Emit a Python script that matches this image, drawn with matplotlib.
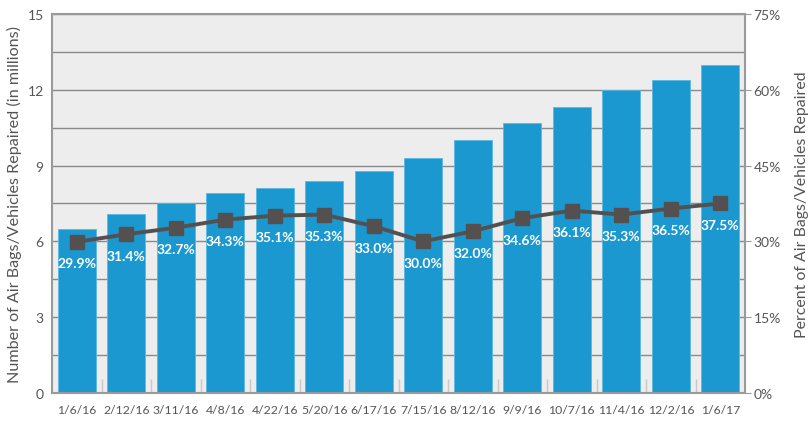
import numpy as np
import matplotlib.pyplot as plt

dates = ["1/6/16", "2/12/16", "3/11/16", "4/8/16", "4/22/16", "5/20/16", "6/17/16",
         "7/15/16", "8/12/16", "9/9/16", "10/7/16", "11/4/16", "12/2/16", "1/6/17"]
repaired = [6.5, 7.1, 7.5, 7.9, 8.1, 8.4, 8.8, 9.3, 10.0, 10.7, 11.3, 12.0, 12.4, 13.0]
pct = [29.9, 31.4, 32.7, 34.3, 35.1, 35.3, 33.0, 30.0, 32.0, 34.6, 36.1, 35.3, 36.5, 37.5]

plt.rcParams['font.family'] = ['Lato', 'DejaVu Sans']
txt = "#555555"
grey = "#9a9a9a"

fig = plt.figure(figsize=(8.1, 4.27), dpi=100)
ax = fig.add_axes([0.0642, 0.0773, 0.8556, 0.8876])
ax.set_facecolor("#ededed")
x = np.arange(len(dates))

ax.set_axisbelow(True)
ax.yaxis.grid(True, which="both", color="#8a8a8a", linewidth=1)
ax.bar(x, repaired, width=0.77, color="#1b98cf", edgecolor="#5ab8e0", linewidth=0.6, zorder=2)

ax.set_xlim(-0.5, len(dates) - 0.5)
ax.set_ylim(0, 15)
ax.set_yticks([0, 3, 6, 9, 12, 15])
ax.set_yticks(np.arange(1.5, 15, 3), minor=True)
ax.tick_params(axis="y", which="both", length=0, labelsize=10, labelcolor=txt, pad=6)
ax.set_xticks(x)
ax.set_xticklabels(dates)
ax.set_xticks(x[:-1] + 0.5, minor=True)
ax.tick_params(axis="x", which="major", length=0, labelsize=8.8, labelcolor=txt, pad=8)
ax.tick_params(axis="x", which="minor", direction="in", length=10, color="#c8c8c8", width=1)
ax.set_ylabel("Number of Air Bags/Vehicles Repaired (in millions)", fontsize=11.6, color=txt, labelpad=4)
for s in ax.spines.values():
    s.set_color(grey)
    s.set_linewidth(1.5)

ax2 = ax.twinx()
ax2.plot(x, pct, color="#555050", linewidth=2.8, marker="s", markersize=10, zorder=3)
ax2.set_ylim(0, 75)
ax2.set_yticks([0, 15, 30, 45, 60, 75])
ax2.set_yticklabels([f"{v}%" for v in [0, 15, 30, 45, 60, 75]])
ax2.tick_params(axis="y", length=4, color=grey, labelsize=10, labelcolor=txt, pad=2)
ax2.set_ylabel("Percent of Air Bags/Vehicles Repaired", fontsize=11.4, color=txt, labelpad=10)
for s in ax2.spines.values():
    s.set_visible(False)

for xi, p in zip(x, pct):
    ax2.annotate(f"{p:.1f}%", (xi, p), xytext=(0, -15.5), textcoords="offset points",
                 ha="center", va="center", color="white", fontsize=10, fontweight="bold")

fig.savefig("out.png", dpi=100)
